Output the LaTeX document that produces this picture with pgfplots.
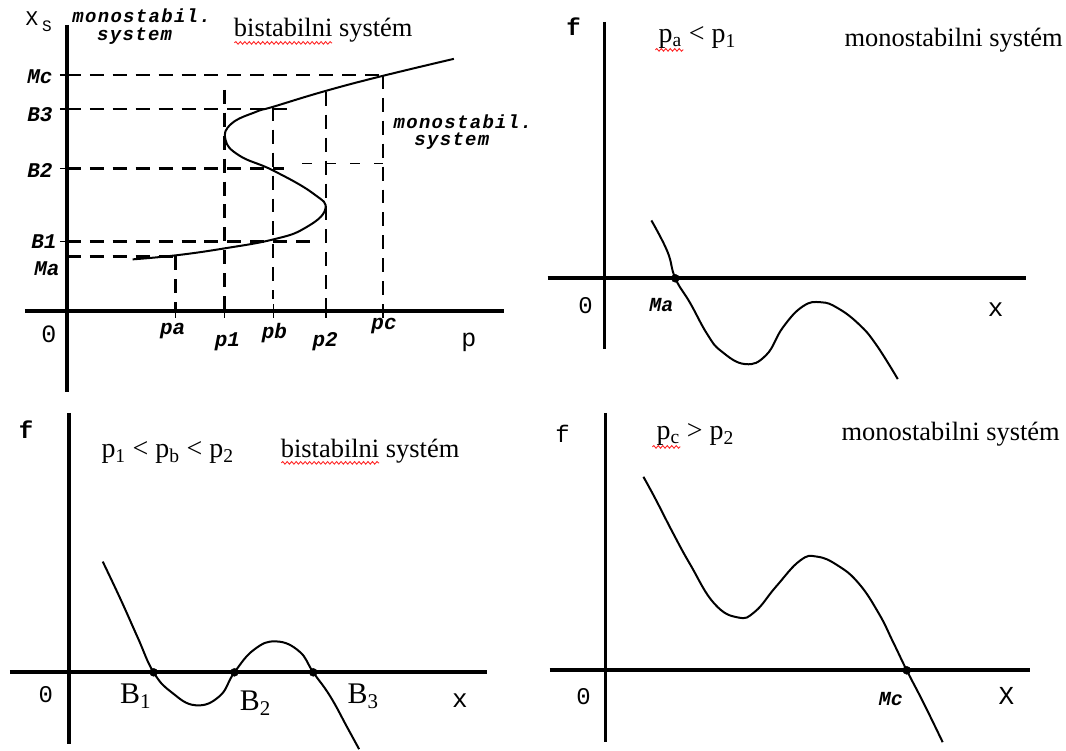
\documentclass[border=0pt]{standalone}
\usepackage{pgfplots}
\pgfplotsset{compat=1.18}
\usepackage{fontspec}
\setmainfont{Liberation Serif}
\setmonofont{Liberation Mono}
\usetikzlibrary{decorations.pathmorphing}

% font helpers
\newcommand\serif[1]{\fontsize{#1}{#1}\selectfont\rmfamily}
\newcommand\mono[1]{\fontsize{#1}{#1}\selectfont\ttfamily}
\newcommand\spaced{\addfontfeature{LetterSpace=7}}

\tikzset{
  ax/.style={black, line width=3.8pt},
  crv/.style={black, line width=2pt, smooth, tension=0.75},
  dsh/.style={black, line width=2.3pt, dash pattern=on 14pt off 9pt},
  tck/.style={black, line width=1.6pt},
  wavy/.style={red!85, line width=0.9pt, decorate,
    decoration={snake, amplitude=1.3pt, segment length=4.5pt}},
}

\begin{document}
\begin{tikzpicture}
\begin{axis}[
  width=1066pt, height=751pt, scale only axis,
  xmin=0, xmax=1066, ymin=0, ymax=751, y dir=reverse,
  hide axis, clip=false,
  dot/.style={black, only marks, mark=*, mark size=4pt},
]
\path (0,0) (1066,751);

% ---------- bifurcation diagram x_s(p) ----------
\addplot[ax] coordinates {(67,25) (67,393)};
\addplot[ax] coordinates {(25,312) (505,312)};
% tick marks
\addplot[tck] coordinates {(176,305) (176,319)};
\addplot[tck] coordinates {(225,305) (225,319)};
\addplot[tck] coordinates {(274,305) (274,319)};
\addplot[tck] coordinates {(327,305) (327,319)};
\addplot[tck] coordinates {(384,305) (384,319)};
\addplot[tck] coordinates {(60,75) (74,75)};
\addplot[tck] coordinates {(60,109) (74,109)};
\addplot[tck] coordinates {(60,169) (74,169)};
\addplot[tck] coordinates {(60,242) (74,242)};
% guide lines
\addplot[dsh] coordinates {(67,75) (384,75)};
\addplot[dsh] coordinates {(67,109) (288,109)};
\addplot[dsh] coordinates {(67,169) (285,169)};
\addplot[black, line width=1.6pt, dash pattern=on 10pt off 14pt] coordinates {(303,164) (384,164)};
\addplot[dsh] coordinates {(67,242) (313,242)};
\addplot[dsh] coordinates {(67,257) (176,257)};
\addplot[dsh] coordinates {(176,257) (176,312)};
\addplot[dsh] coordinates {(225,90) (225,312)};
\addplot[dsh] coordinates {(274,107) (274,300)};
\addplot[dsh] coordinates {(327,92) (327,312)};
\addplot[dsh] coordinates {(384,75) (384,312)};
% S-shaped branch of steady states
\addplot[crv] coordinates {
  (133,260) (176,256) (225,249) (274,240) (305,229) (326,210)
  (314,194) (274,171) (240,156) (226,140)
  (232,124) (257,112) (274,107) (327,91)
  (384,76) (455,59)};
% labels
\node[font=\mono{21}] at (32,19) {X};
\node[font=\mono{16}] at (47,26) {S};
\node[font=\mono{19}\bfseries\itshape\spaced] at (142,16) {monostabil.};
\node[font=\mono{19}\bfseries\itshape\spaced] at (135,36) {system};
\node[font=\serif{26.5}] at (324,30) {bistabilni systém};
\draw[wavy] (235,43) -- (333,43);
\node[font=\mono{19}\bfseries\itshape\spaced] at (464,122) {monostabil.};
\node[font=\mono{19}\bfseries\itshape\spaced] at (453,142) {system};
\node[font=\mono{21}\bfseries\itshape] at (40,77) {Mc};
\node[font=\mono{21}\bfseries\itshape] at (40,115) {B3};
\node[font=\mono{21}\bfseries\itshape] at (40,171) {B2};
\node[font=\mono{21}\bfseries\itshape] at (44,242) {B1};
\node[font=\mono{21}\bfseries\itshape] at (47,269) {Ma};
\node[font=\mono{25}] at (49,335) {0};
\node[font=\mono{21}\bfseries\itshape] at (173,332) {pa};
\node[font=\mono{21}\bfseries\itshape] at (228,343) {p1};
\node[font=\mono{21}\bfseries\itshape] at (275,334) {pb};
\node[font=\mono{21}\bfseries\itshape] at (326,343) {p2};
\node[font=\mono{21}\bfseries\itshape] at (385,327) {pc};
\node[font=\mono{25}] at (470,343) {p};

% ---------- f(x) for p_a < p_1 ----------
\addplot[ax] coordinates {(606,22) (606,350)};
\addplot[ax] coordinates {(549,279) (1029,279)};
\addplot[crv] coordinates {
  (653,221) (669,252) (677,279) (692,304) (709,335) (723,352) (747,365)
  (768,356) (785,328) (805,307) (823,303) (840,309) (861,325) (878,345) (900,380)};
\addplot[dot] coordinates {(677,279)};
\node[font=\mono{24}\bfseries] at (575,27) {f};
\node[font=\serif{28}] at (699,38) {p\textsubscript{a} < p\textsubscript{1}};
\draw[wavy] (657,50) -- (685,50);
\node[font=\serif{26.5}] at (956,40) {monostabilni systém};
\node[font=\mono{24}] at (587,306) {0};
\node[font=\mono{20}\bfseries\itshape] at (663,306) {Ma};
\node[font=\mono{26}] at (998,310) {x};

% ---------- f(x) for p_1 < p_b < p_2 ----------
\addplot[ax] coordinates {(69,414) (69,746)};
\addplot[ax] coordinates {(10,674) (488,674)};
\addplot[crv] coordinates {
  (103,563) (121,601) (138,639) (154,674) (172,694) (196,707) (220,698)
  (235,674) (255,651) (277,643) (300,653) (314,674) (331,698) (348,729) (360,751)};
\addplot[dot] coordinates {(154,674) (235,674) (314,674)};
\node[font=\mono{24}\bfseries] at (26,431) {f};
\node[font=\serif{28}] at (168,454) {p\textsubscript{1} < p\textsubscript{b} < p\textsubscript{2}};
\node[font=\serif{26.5}] at (371,452) {bistabilni systém};
\draw[wavy] (282,464) -- (380,464);
\node[font=\mono{24}] at (46,696) {0};
\node[font=\serif{30}] at (136,698) {B\textsubscript{1}};
\node[font=\serif{30}] at (256,705) {B\textsubscript{2}};
\node[font=\serif{30}] at (364,698) {B\textsubscript{3}};
\node[font=\mono{26}] at (461,702) {x};

% ---------- f(x) for p_c > p_2 ----------
\addplot[ax] coordinates {(607,414) (607,744)};
\addplot[ax] coordinates {(551,672) (1033,672)};
\addplot[crv] coordinates {
  (645,478) (657,500) (675,535) (692,566) (716,605) (740,619) (757,613)
  (778,588) (802,562) (819,558) (840,567) (861,585) (881,615) (895,643)
  (909,672) (926,705) (945,744)};
\addplot[dot] coordinates {(909,672)};
\node[font=\mono{24}] at (564,435) {f};
\node[font=\serif{28}] at (697,436) {p\textsubscript{c} > p\textsubscript{2}};
\draw[wavy] (654,448) -- (682,448);
\node[font=\serif{26.5}] at (953,435) {monostabilni systém};
\node[font=\mono{24}] at (585,698) {0};
\node[font=\mono{20}\bfseries\itshape] at (893,701) {Mc};
\node[font=\mono{26}] at (1009,698) {X};
\end{axis}
\end{tikzpicture}
\end{document}
